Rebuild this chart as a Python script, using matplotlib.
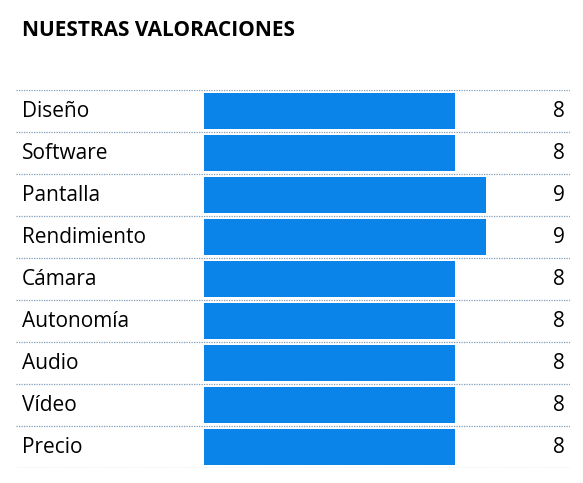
import matplotlib
matplotlib.use('Agg')
import matplotlib.pyplot as plt

categorias = ['Diseño', 'Software', 'Pantalla', 'Rendimiento', 'Cámara',
              'Autonomía', 'Audio', 'Vídeo', 'Precio']
valores = [8, 8, 9, 9, 8, 8, 8, 8, 8]

plt.rcParams['font.family'] = ['Open Sans', 'DejaVu Sans']

W, H = 583, 483
fig = plt.figure(figsize=(W / 100, H / 100), dpi=100)
# axes spans the table area: x 16..570 px, y 90..468 px
left, right, top, bottom = 16, 570, 90, 468
ax = fig.add_axes([left / W, 1 - bottom / H, (right - left) / W, (bottom - top) / H])
unit = (455 - 204) / 8.0
ax.set_xlim((left - 204) / unit, (right - 204) / unit)
n = len(categorias)
ax.set_ylim(n, 0)
ax.axis('off')

ys = [i + 0.5 for i in range(n)]
ax.barh(ys, valores, height=0.88, color='#0A84E8')
for y, c, v in zip(ys, categorias, valores):
    ax.text((22 - 204) / unit, y + 0.02, c, ha='left', va='center', fontsize=15, color='black')
    ax.text((565 - 204) / unit, y + 0.02, str(v), ha='right', va='center', fontsize=15, color='black')
for i in range(n + 1):
    ax.axhline(i, color='#7F9DB9', lw=0.9, ls=(0, (1, 1)))

fig.text(22 / W, 1 - 30 / H, 'NUESTRAS VALORACIONES', ha='left', va='center',
         fontsize=15, fontweight='bold')

fig.savefig('out.png', dpi=100)
